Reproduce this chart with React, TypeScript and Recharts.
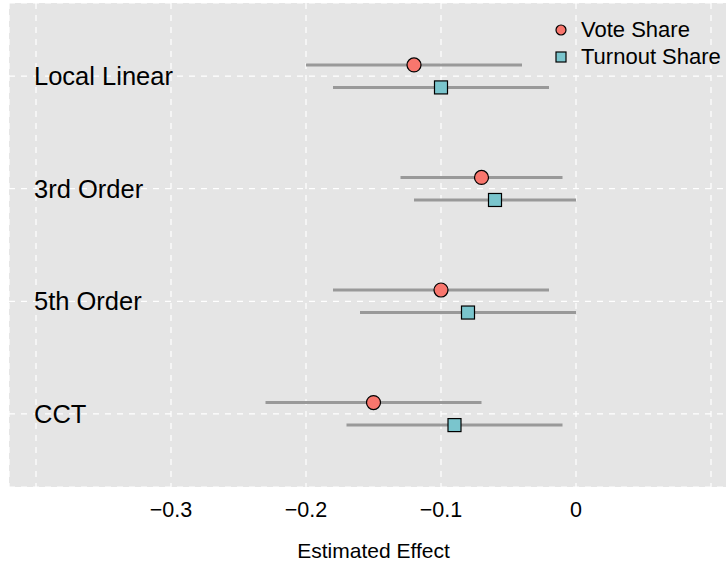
import React from "react";
import {
  ScatterChart,
  Scatter,
  XAxis,
  YAxis,
  CartesianGrid,
  ErrorBar,
} from "recharts";

const methods = ["Local Linear", "3rd Order", "5th Order", "CCT"];

const voteEst = [-0.12, -0.07, -0.1, -0.15];
const voteLow = [-0.2, -0.13, -0.18, -0.23];
const voteHigh = [-0.04, -0.01, -0.02, -0.07];

const turnoutEst = [-0.1, -0.06, -0.08, -0.09];
const turnoutLow = [-0.18, -0.12, -0.16, -0.17];
const turnoutHigh = [-0.02, 0.0, 0.0, -0.01];

const xTicks = [-0.4, -0.3, -0.2, -0.1, 0, 0.1];
const xTickLabels = ["", "\u22120.3", "\u22120.2", "\u22120.1", "0", ""];

const font = "'Liberation Sans', Arial, Helvetica, sans-serif";
const voteColor = "#F8766D";
const turnoutColor = "#7AC5CD";

const dodge = 0.1;

const rows = (est: number[], low: number[], high: number[], shift: number) =>
  methods.map((m, i) => ({
    method: m,
    x: est[i],
    y: methods.length - i + shift,
    err: [est[i] - low[i], high[i] - est[i]],
  }));

const voteData = rows(voteEst, voteLow, voteHigh, dodge);
const turnoutData = rows(turnoutEst, turnoutLow, turnoutHigh, -dodge);
const labelData = methods.map((m, i) => ({
  method: m,
  x: xTicks[0],
  y: methods.length - i,
}));

const Circle = (p: any) => (
  <circle cx={p.cx} cy={p.cy} r={7} fill={voteColor} stroke="#000" strokeWidth={1.2} />
);

const Square = (p: any) => (
  <rect
    x={p.cx - 6.5}
    y={p.cy - 6.5}
    width={13}
    height={13}
    fill={turnoutColor}
    stroke="#000"
    strokeWidth={1.2}
  />
);

const MethodLabel = (p: any) => (
  <text
    x={p.cx - 2}
    y={p.cy}
    dy="0.35em"
    fontSize={25.5}
    fontFamily={font}
    fill="#000"
    textAnchor="start"
  >
    {p.payload.method}
  </text>
);

export default function App() {
  return (
    <div
      style={{
        position: "fixed",
        left: 0,
        top: 0,
        width: 726,
        height: 563,
        overflow: "hidden",
        background: "#fff",
      }}
    >
      <ScatterChart
        width={744}
        height={563}
        margin={{ top: 3, right: 6, bottom: 0, left: 9 }}
      >
        <CartesianGrid
          fill="#E5E5E5"
          stroke="#fff"
          strokeDasharray="6 6"
          strokeWidth={1.2}
        />
        <XAxis
          type="number"
          dataKey="x"
          domain={[-0.42, 0.12]}
          ticks={xTicks}
          tickFormatter={(v: number) => xTickLabels[xTicks.indexOf(v)] ?? ""}
          axisLine={false}
          tickLine={false}
          tickSize={0}
          tickMargin={15}
          height={76}
          tick={{ fontSize: 21.5, fill: "#000", fontFamily: font }}
          label={{
            value: "Estimated Effect",
            position: "insideBottom",
            offset: 5,
            fontSize: 21,
            fill: "#000",
            fontFamily: font,
          }}
        />
        <YAxis
          type="number"
          dataKey="y"
          domain={[0.35, 4.65]}
          ticks={[1, 2, 3, 4]}
          hide
        />
        <Scatter data={labelData} shape={MethodLabel} isAnimationActive={false} />
        <Scatter data={voteData} shape={Circle} isAnimationActive={false}>
          <ErrorBar dataKey="err" direction="x" width={0} stroke="#999999" strokeWidth={3} />
        </Scatter>
        <Scatter data={turnoutData} shape={Square} isAnimationActive={false}>
          <ErrorBar dataKey="err" direction="x" width={0} stroke="#999999" strokeWidth={3} />
        </Scatter>
      </ScatterChart>
      <div
        style={{
          position: "absolute",
          left: 553,
          top: 16,
          fontFamily: font,
          fontSize: 22,
          color: "#000",
          whiteSpace: "nowrap",
        }}
      >
        {[
          { name: "Vote Share", square: false },
          { name: "Turnout Share", square: true },
        ].map((item) => (
          <div
            key={item.name}
            style={{ display: "flex", alignItems: "center", height: 27 }}
          >
            <svg width={16} height={16} style={{ marginRight: 12, flexShrink: 0 }}>
              {item.square ? (
                <rect x={3} y={3} width={10} height={10} fill={turnoutColor} stroke="#000" strokeWidth={1.2} />
              ) : (
                <circle cx={8} cy={8} r={5} fill={voteColor} stroke="#000" strokeWidth={1.2} />
              )}
            </svg>
            <span>{item.name}</span>
          </div>
        ))}
      </div>
    </div>
  );
}
